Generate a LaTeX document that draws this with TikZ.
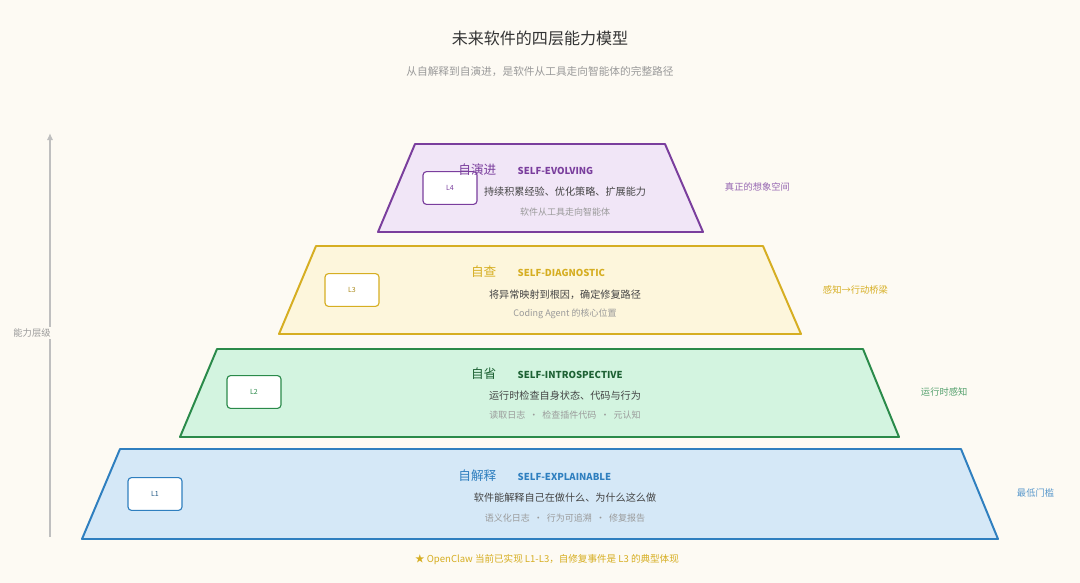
\documentclass[tikz,border=0pt]{standalone}
\usepackage{fontspec}
\setmainfont{Noto Sans CJK SC}
\usetikzlibrary{positioning, calc, arrows.meta}

\begin{document}
\begin{tikzpicture}[
  x=0.025cm, y=-0.025cm,
  >={Latex[length=5pt,width=4.5pt]},
  lvlname/.style={anchor=east, inner sep=1pt, font=\fontsize{9}{10}\selectfont},
  lvleng/.style={anchor=west, inner sep=1pt, font=\fontsize{6.8}{8}\selectfont\bfseries},
  lvldesc/.style={text=cDesc, font=\fontsize{7.2}{9}\selectfont},
  lvlsub/.style={text=cSub, font=\fontsize{6.4}{8}\selectfont},
  lvlbox/.style={line width=0.8pt, rounded corners=2.5pt, fill=white,
    minimum width=1.35cm, minimum height=0.82cm, font=\fontsize{5}{6}\selectfont},
  sidenote/.style={anchor=west, font=\fontsize{6.6}{8}\selectfont},
]
\definecolor{cBg}{HTML}{FDFAF3}
\definecolor{cTitle}{HTML}{333333}
\definecolor{cDesc}{HTML}{444444}
\definecolor{cSub}{HTML}{9A9A9A}
\definecolor{cPurple}{HTML}{7A3E9D}  % L4
\definecolor{cPurpleFill}{HTML}{F1E6F7}
\definecolor{cGold}{HTML}{D6AE22}    % L3
\definecolor{cGoldFill}{HTML}{FDF6DC}
\definecolor{cGreen}{HTML}{2A8A4A}   % L2
\definecolor{cGreenFill}{HTML}{D3F4E0}
\definecolor{cBlue}{HTML}{2F7FBF}    % L1
\definecolor{cBlueFill}{HTML}{D5E8F7}

% ---------- canvas ----------
\fill[cBg] (0,0) rectangle (1080,583);
\useasboundingbox (0,0) rectangle (1080,583);

% ---------- title ----------
\node[text=cTitle, font=\fontsize{11.4}{13}\selectfont] (title) at (540,38)
  {未来软件的四层能力模型};
\node[text=cSub, font=\fontsize{7.6}{9}\selectfont] (subtitle) at (540,72)
  {从自解释到自演进，是软件从工具走向智能体的完整路径};

% ---------- axis ----------
\coordinate (axisBottom) at (50,537);
\coordinate (axisTop) at (50,133);
\draw[black!25, line width=1.1pt, ->] (axisBottom) -- (axisTop);
\node[text=cSub, fill=cBg, inner sep=1pt, font=\fontsize{6.6}{8}\selectfont]
  (axisLabel) at (32,333) {能力层级};

% ---------- L1 ----------
\filldraw[fill=cBlueFill, draw=cBlue, line width=1.4pt, line join=round]
  (120,449) -- (961,449) -- (998,539) -- (82,539) -- cycle;
\node[lvlbox, draw=cBlue, text=cBlue!70!black] (boxL1) at (155,494) {L1};
\node[lvlname, text=cBlue] (nameL1) at (498,476) {自解释};
\node[lvleng, text=cBlue] (engL1) at (516,477) {SELF-EXPLAINABLE};
\node[lvldesc] (descL1) at (565,498) {软件能解释自己在做什么、为什么这么做};
\node[lvlsub] (subL1) at (565,518) {语义化日志 \ · \ 行为可追溯 \ · \ 修复报告};
\node[sidenote, text=cBlue!80] (noteL1) at (1012,493) {最低门槛};

% ---------- L2 ----------
\filldraw[fill=cGreenFill, draw=cGreen, line width=1.4pt, line join=round]
  (217,349) -- (863,349) -- (899,437) -- (180,437) -- cycle;
\node[lvlbox, draw=cGreen, text=cGreen] (boxL2) at (254,392) {L2};
\node[lvlname, text=cGreen!70!black] (nameL2) at (498,374) {自省};
\node[lvleng, text=cGreen!70!black] (engL2) at (516,375) {SELF-INTROSPECTIVE};
\node[lvldesc] (descL2) at (565,396) {运行时检查自身状态、代码与行为};
\node[lvlsub] (subL2) at (565,415) {读取日志 \ · \ 检查插件代码 \ · \ 元认知};
\node[sidenote, text=cGreen!80] (noteL2) at (916,392) {运行时感知};

% ---------- L3 ----------
\filldraw[fill=cGoldFill, draw=cGold, line width=1.4pt, line join=round]
  (316,246) -- (763,246) -- (801,334) -- (279,334) -- cycle;
\node[lvlbox, draw=cGold, text=cGold!80!black] (boxL3) at (352,290) {L3};
\node[lvlname, text=cGold] (nameL3) at (498,272) {自查};
\node[lvleng, text=cGold] (engL3) at (516,273) {SELF-DIAGNOSTIC};
\node[lvldesc] (descL3) at (565,295) {将异常映射到根因，确定修复路径};
\node[lvlsub] (subL3) at (565,314) {Coding Agent 的核心位置};
\node[sidenote, text=cGold] (noteL3) at (818,290) {感知→行动桥梁};

% ---------- L4 ----------
\filldraw[fill=cPurpleFill, draw=cPurple, line width=1.4pt, line join=round]
  (415,144) -- (665,144) -- (703,232) -- (378,232) -- cycle;
\node[lvlbox, draw=cPurple, text=cPurple] (boxL4) at (450,188) {L4};
\node[lvlname, text=cPurple] (nameL4) at (498,170) {自演进};
\node[lvleng, text=cPurple] (engL4) at (516,171) {SELF-EVOLVING};
\node[lvldesc] (descL4) at (565,192) {持续积累经验、优化策略、扩展能力};
\node[lvlsub] (subL4) at (565,212) {软件从工具走向智能体};
\node[sidenote, text=cPurple!80] (noteL4) at (720,187) {真正的想象空间};

% ---------- footer ----------
\node[text=cGold, font=\fontsize{6.8}{8}\selectfont] (footer) at (547,560)
  {★\ OpenClaw 当前已实现 L1-L3，自修复事件是 L3 的典型体现};

\end{tikzpicture}
\end{document}
